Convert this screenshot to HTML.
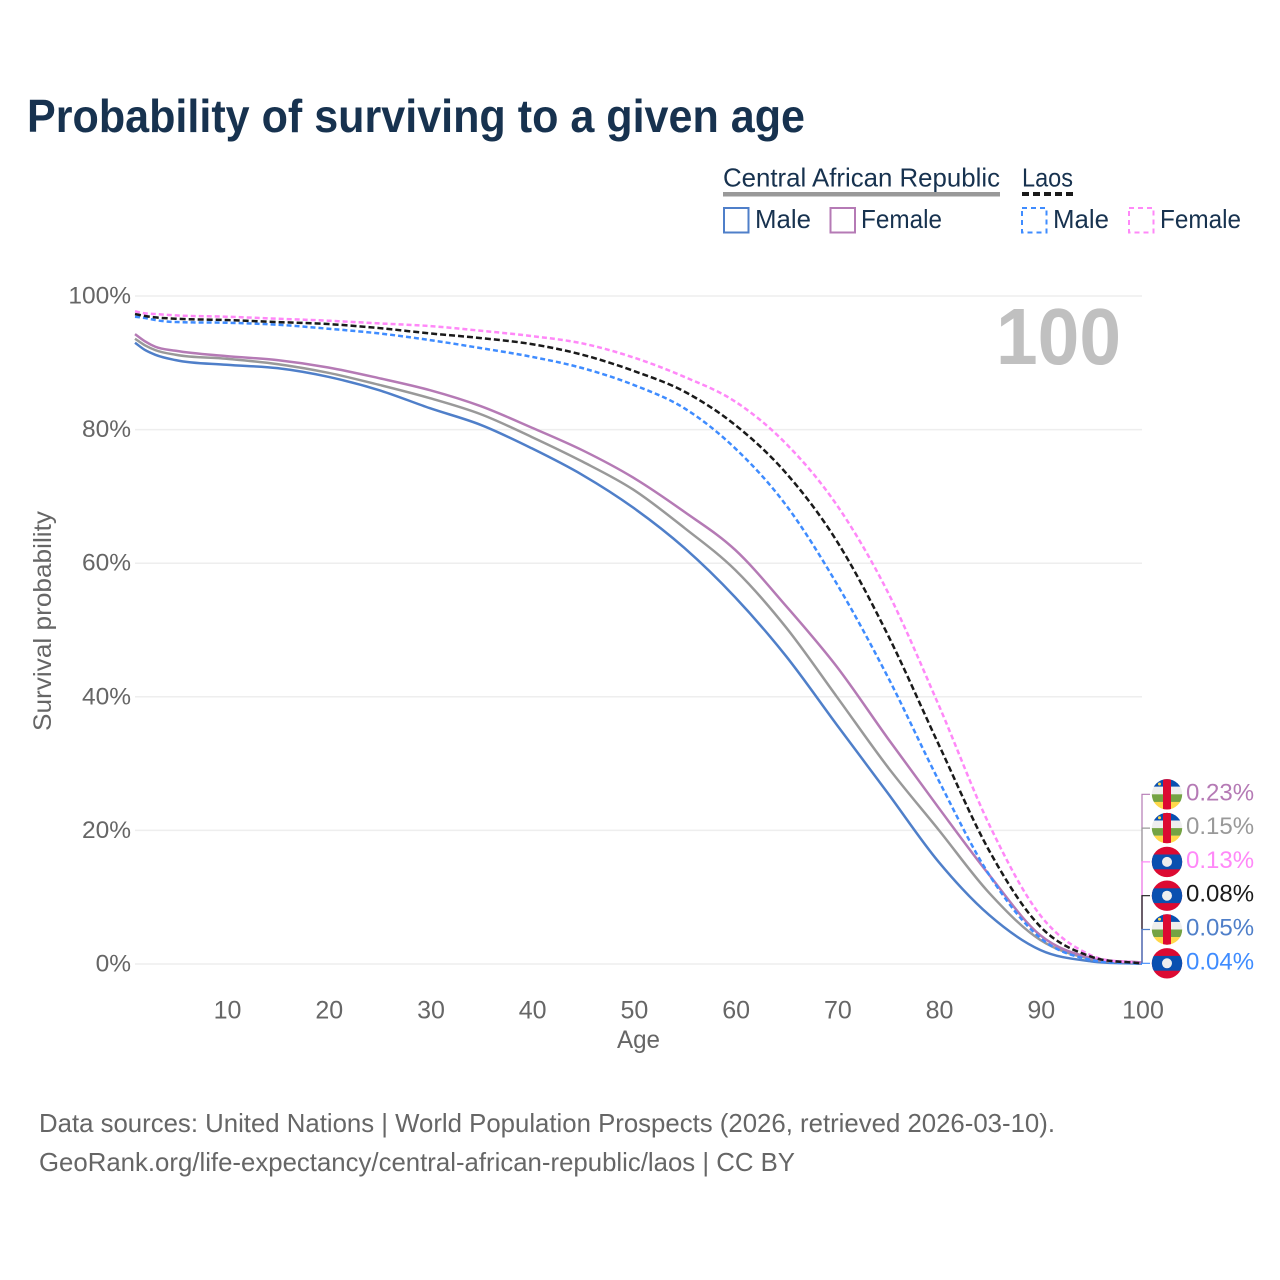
<!DOCTYPE html>
<html lang="en">
<head>
<meta charset="utf-8">
<title>Probability of surviving to a given age</title>
<style>
html,body{margin:0;padding:0;background:#fff}
svg{display:block}
text{font-family:"Liberation Sans",sans-serif}
</style>
</head>
<body>
<svg id="chart" xmlns="http://www.w3.org/2000/svg" width="1280" height="1280" viewBox="0 0 1280 1280">
  <rect width="1280" height="1280" fill="#fff"/>
  <text x="27" y="132" font-size="46" font-weight="700" fill="#17324f" textLength="778" lengthAdjust="spacingAndGlyphs">Probability of surviving to a given age</text>

  <g>
    <text x="723" y="186.5" font-size="26" fill="#17324f" textLength="277" lengthAdjust="spacingAndGlyphs">Central African Republic</text>
    <rect x="723" y="192" width="277" height="4.5" fill="#999"/>
    <text x="1022" y="186.5" font-size="26" fill="#17324f" textLength="51" lengthAdjust="spacingAndGlyphs">Laos</text>
    <line x1="1022" y1="194" x2="1073" y2="194" stroke="#1a1a1a" stroke-width="4" stroke-dasharray="7 4"/>
    <rect x="724" y="208" width="24.5" height="24.5" fill="none" stroke="#4f7fc9" stroke-width="2"/>
    <text x="755" y="228" font-size="26" fill="#17324f" textLength="56" lengthAdjust="spacingAndGlyphs">Male</text>
    <rect x="830.5" y="208" width="24.5" height="24.5" fill="none" stroke="#b57ab5" stroke-width="2"/>
    <text x="861" y="228" font-size="26" fill="#17324f" textLength="81" lengthAdjust="spacingAndGlyphs">Female</text>
    <rect x="1022" y="208" width="24.5" height="24.5" fill="none" stroke="#3f8cff" stroke-width="2" stroke-dasharray="5 4"/>
    <text x="1053" y="228" font-size="26" fill="#17324f" textLength="56" lengthAdjust="spacingAndGlyphs">Male</text>
    <rect x="1129" y="208" width="24.5" height="24.5" fill="none" stroke="#ff88f8" stroke-width="2" stroke-dasharray="5 4"/>
    <text x="1160" y="228" font-size="26" fill="#17324f" textLength="81" lengthAdjust="spacingAndGlyphs">Female</text>
  </g>

  <g id="grid"></g>
  <g id="yticks"></g>
  <g id="xticks"></g>
  <text x="996" y="364" font-size="80" font-weight="700" fill="#c0c0c0" textLength="125" lengthAdjust="spacingAndGlyphs">100</text>
  <text transform="translate(51 731) rotate(-90)" x="0" y="0" font-size="25" fill="#666" textLength="220" lengthAdjust="spacingAndGlyphs">Survival probability</text>
  <text x="617" y="1048" font-size="25" fill="#666" textLength="43" lengthAdjust="spacingAndGlyphs">Age</text>

  <g id="series"></g>
  <g id="connectors"></g>
  <g id="endlabels"></g>

  <text x="39" y="1132" font-size="26" fill="#666" textLength="1016" lengthAdjust="spacingAndGlyphs">Data sources: United Nations | World Population Prospects (2026, retrieved 2026-03-10).</text>
  <text x="39" y="1171" font-size="26" fill="#666" textLength="756" lengthAdjust="spacingAndGlyphs">GeoRank.org/life-expectancy/central-african-republic/laos | CC BY</text>
</svg>

<script>
const ages = [1,2,3,5,10,15,20,25,30,35,40,45,50,55,60,65,70,75,80,85,90,95,100];
const carMale = [93.0,91.9,91.2,90.4,89.7,89.2,87.9,85.9,83.2,80.7,77.2,73.2,68.3,62.3,54.9,46.1,35.8,25.6,15.3,7.3,2.1,0.4,0.05];
const carBoth = [93.6,92.6,91.9,91.2,90.6,89.8,88.5,86.7,84.7,82.3,78.9,75.2,71.0,65.3,59.0,50.4,40.0,29.5,20.1,10.6,3.6,0.75,0.15];
const carFemale = [94.3,93.2,92.4,91.8,91.0,90.4,89.3,87.7,85.9,83.5,80.3,76.9,72.8,67.7,62.0,53.6,44.5,33.8,23.4,13.3,4.3,0.9,0.23];
const laosMale = [96.9,96.7,96.4,96.1,96.0,95.7,95.1,94.4,93.4,92.2,90.9,89.2,86.7,83.2,77.2,68.7,56.9,43.0,27.5,13.3,3.9,0.6,0.04];
const laosBoth = [97.3,97.0,96.8,96.6,96.4,96.1,95.8,95.2,94.4,93.7,92.8,91.2,88.8,85.7,80.7,73.5,63.3,49.3,32.9,16.9,5.6,1.1,0.08];
const laosFemale = [97.7,97.4,97.3,97.1,96.9,96.6,96.3,95.9,95.5,94.8,94.0,92.9,90.8,87.9,84.2,77.9,68.7,55.7,38.8,20.8,7.3,1.3,0.13];
const xTickLabels = [10,20,30,40,50,60,70,80,90,100];
const yTickLabels = [0,20,40,60,80,100];

const NS = 'http://www.w3.org/2000/svg';
function x(age){ return 135 + (age - 1) * (1142 - 135) / 99; }
function y(pct){ return 964 - pct * 6.68; }
function mk(tag, parent, attrs){
  const el = document.createElementNS(NS, tag);
  for (const k in attrs) el.setAttribute(k, attrs[k]);
  parent.appendChild(el);
  return el;
}
function monotonePath(xs, ys){
  const n = xs.length, d = [], m = [];
  for (let i = 0; i < n - 1; i++) d.push((ys[i+1] - ys[i]) / (xs[i+1] - xs[i]));
  m[0] = d[0]; m[n-1] = d[n-2];
  for (let i = 1; i < n - 1; i++){
    if (d[i-1] * d[i] <= 0) { m[i] = 0; continue; }
    const h0 = xs[i] - xs[i-1], h1 = xs[i+1] - xs[i];
    m[i] = (d[i-1] * h1 + d[i] * h0) / (h0 + h1);
    const lim = 3 * Math.min(Math.abs(d[i-1]), Math.abs(d[i]));
    if (Math.abs(m[i]) > lim) m[i] = Math.sign(m[i]) * lim;
  }
  let p = 'M' + xs[0].toFixed(2) + ' ' + ys[0].toFixed(2);
  for (let i = 0; i < n - 1; i++){
    const h = (xs[i+1] - xs[i]) / 3;
    p += 'C' + (xs[i] + h).toFixed(2) + ' ' + (ys[i] + m[i] * h).toFixed(2) + ' ' +
         (xs[i+1] - h).toFixed(2) + ' ' + (ys[i+1] - m[i+1] * h).toFixed(2) + ' ' +
         xs[i+1].toFixed(2) + ' ' + ys[i+1].toFixed(2);
  }
  return p;
}

/* gridlines + y ticks */
const gridG = document.getElementById('grid');
const yG = document.getElementById('yticks');
yTickLabels.forEach(function(v){
  const ln = mk('line', gridG, {x1:135, x2:1142, y1:y(v), y2:y(v), stroke:'#eeeeee', 'stroke-width':1.5});
  
  
  const t = mk('text', yG, {x:131, y:y(v) + 7.5, 'text-anchor':'end', 'font-size':24.5, fill:'#666'});
  
  
  t.textContent = v + '%';
});

/* x ticks */
const xG = document.getElementById('xticks');
xTickLabels.forEach(function(v){
  const t = mk('text', xG, {x:x(v) + 1, y:1018.5, 'text-anchor':'middle', 'font-size':25, fill:'#666'});
  
  
  t.textContent = v;
});

/* series */
const seriesList = [
  {key:'car-male', values:carMale, color:'#4f7fc9', dash:'', flag:'car', text:'#4f7fc9'},
  {key:'car-both', values:carBoth, color:'#999999', dash:'', flag:'car', text:'#999999'},
  {key:'car-female', values:carFemale, color:'#b57ab5', dash:'', flag:'car', text:'#b57ab5'},
  {key:'laos-male', values:laosMale, color:'#3f8cff', dash:'5 3', flag:'laos', text:'#3f8cff'},
  {key:'laos-female', values:laosFemale, color:'#ff88f8', dash:'5 3', flag:'laos', text:'#ff88f8'},
  {key:'laos-both', values:laosBoth, color:'#1a1a1a', dash:'6 3', flag:'laos', text:'#1a1a1a'}
];
const seriesG = document.getElementById('series');
seriesList.forEach(function(s){
  const path = mk('path', seriesG, {
    d: monotonePath(ages.map(x), s.values.map(y)),
    fill:'none', stroke:s.color, 'stroke-width':2.5, 'stroke-linejoin':'round'
  });
  if (s.dash) path.setAttribute('stroke-dasharray', s.dash);
  
  
});

/* end labels: ranked by final value, stacked from the bottom */
const ranked = seriesList.slice().sort(function(a, b){
  return a.values[a.values.length - 1] - b.values[b.values.length - 1];
});
const connG = document.getElementById('connectors');
const labelG = document.getElementById('endlabels');
const defs = mk('defs', labelG, {});

function drawFlag(kind, cx, cy, id){
  const clip = mk('clipPath', defs, {id:'clip-' + id});
  mk('circle', clip, {cx:cx, cy:cy, r:15.2});
  const g = mk('g', labelG, {'clip-path':'url(#clip-' + id + ')'});
  
  
  const X = cx - 16, W = 32;
  if (kind === 'car'){
    mk('rect', g, {x:X, y:cy - 16, width:W, height:8.5, fill:'#0a50b0'});
    mk('rect', g, {x:X, y:cy - 7.6, width:W, height:7.7, fill:'#eeeeee'});
    mk('rect', g, {x:X, y:cy, width:W, height:7.7, fill:'#74a343'});
    mk('rect', g, {x:X, y:cy + 7.6, width:W, height:8.5, fill:'#ffd84a'});
    mk('rect', g, {x:cx - 4, y:cy - 16, width:8, height:32, fill:'#dc0a32'});
    mk('circle', g, {cx:cx - 7.5, cy:cy - 10.3, r:1.5, fill:'#ffd84a'});
  } else {
    mk('rect', g, {x:X, y:cy - 16, width:W, height:32, fill:'#dc0a32'});
    mk('rect', g, {x:X, y:cy - 7.4, width:W, height:14.8, fill:'#0a50b0'});
    mk('circle', g, {cx:cx, cy:cy, r:5, fill:'#eeeeee'});
  }
}

/* connectors drawn from the top rank down so lower ones overlay */
ranked.slice().reverse().forEach(function(s){
  const rank = ranked.indexOf(s);
  const ly = 963.3 - rank * 33.8;
  const last = s.values[s.values.length - 1];
  const c = mk('path', connG, {
    d:'M1142 ' + y(last).toFixed(2) + 'L1142 ' + ly.toFixed(2) + 'L1150 ' + ly.toFixed(2),
    fill:'none', stroke:s.color, 'stroke-width':1.2
  });
  
  
});

ranked.forEach(function(s, rank){
  const ly = 963.3 - rank * 33.8;
  drawFlag(s.flag, 1167, ly, s.key);
  const last = s.values[s.values.length - 1];
  const t = mk('text', labelG, {x:1186, y:ly + 6, 'font-size':24, fill:s.text});
  
  
  t.textContent = last.toFixed(2) + '%';
});
</script>
</body>
</html>
